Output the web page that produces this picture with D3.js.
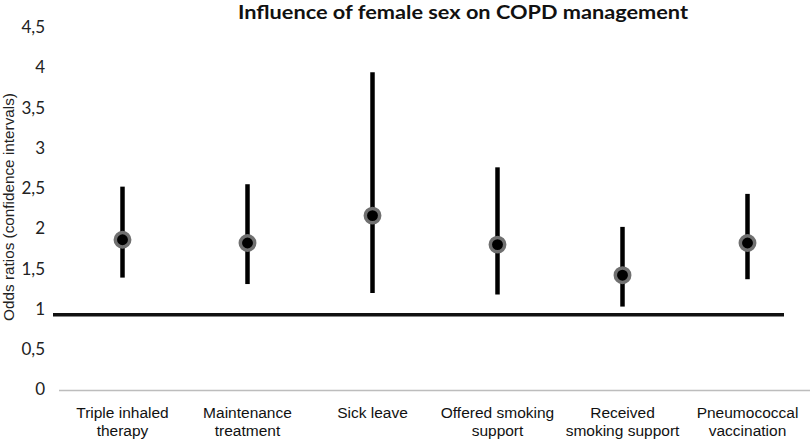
<!DOCTYPE html>
<html>
<head>
<meta charset="utf-8">
<script src="https://cdn.jsdelivr.net/npm/d3@7"></script>
<style>
  html, body { margin: 0; padding: 0; background: #fff; }
  svg { display: block; }
</style>
</head>
<body>
<svg id="chart" width="810" height="442"></svg>
<script>
// ---- data ----
const categories = [
  ["Triple inhaled", "therapy"],
  ["Maintenance", "treatment"],
  ["Sick leave"],
  ["Offered smoking", "support"],
  ["Received", "smoking support"],
  ["Pneumococcal", "vaccination"]
];
const oddsRatios = [1.86, 1.82, 2.16, 1.80, 1.42, 1.82];
const ciLower    = [1.39, 1.31, 1.20, 1.18, 1.03, 1.37];
const ciUpper    = [2.52, 2.55, 3.94, 2.76, 2.02, 2.43];
const yTicks     = [0, 0.5, 1, 1.5, 2, 2.5, 3, 3.5, 4, 4.5];
const referenceLine = 0.93;
const titleText = "Influence of female sex on COPD management";
const yTitle = "Odds ratios (confidence intervals)";

// ---- chart ----
const svg = d3.select("#chart");
const keys = categories.map(c => c.join(" "));

const x = d3.scaleBand().domain(keys).range([60, 810]);
const y = d3.scaleLinear().domain([0, 4.5]).range([389.5, 27.25]);

const fmt = d3.formatLocale({decimal: ",", thousands: ".", grouping: [3], currency: ["", ""]}).format("~g");

// title
svg.append("text")
  .attr("x", 463).attr("y", 19)
  .attr("text-anchor", "middle")
  .attr("font-family", "Lato, 'Open Sans', sans-serif")
  .attr("font-weight", "bold")
  .attr("font-size", 19)
  .attr("fill", "#111")
  .attr("textLength", 450)
  .attr("lengthAdjust", "spacingAndGlyphs")
  .text(titleText);

// y axis title
svg.append("text")
  .attr("transform", `translate(14,207) rotate(-90)`)
  .attr("text-anchor", "middle")
  .attr("font-family", "'Liberation Sans', Arial, sans-serif")
  .attr("font-size", 15.3)
  .attr("fill", "#222")
  .text(yTitle);

// y axis (labels only)
const yAxis = d3.axisLeft(y).tickValues(yTicks).tickFormat(fmt).tickSize(0).tickPadding(0);
const gy = svg.append("g").attr("transform", "translate(45,0)").call(yAxis);
gy.select(".domain").remove();
gy.selectAll("text")
  .attr("font-family", "Lato, 'Open Sans', sans-serif")
  .attr("font-size", 17)
  .attr("fill", "#222");

// x axis baseline (gray)
const xAxis = d3.axisBottom(x).tickSize(0).tickFormat("");
const gx = svg.append("g").attr("transform", `translate(0,${y(0) + 1})`).call(xAxis);
gx.select(".domain").attr("stroke", "#bdbdbd").attr("stroke-width", 1.5)
  .attr("d", `M${x.range()[0] - 1},0H${x.range()[1]}`);

// x labels (two lines)
const lab = svg.append("g").selectAll("text").data(categories).join("text")
  .attr("x", (d, i) => x(keys[i]) + x.bandwidth() / 2)
  .attr("y", 418)
  .attr("text-anchor", "middle")
  .attr("font-family", "'Liberation Sans', Arial, sans-serif")
  .attr("font-size", 15.5)
  .attr("fill", "#111");
lab.selectAll("tspan").data(d => d).join("tspan")
  .attr("x", function() { return this.parentNode.getAttribute("x"); })
  .attr("dy", (d, i) => i === 0 ? 0 : 17.5)
  .text(d => d);

// reference line
svg.append("line")
  .attr("x1", x.range()[0] - 7).attr("x2", x.range()[1] - 26)
  .attr("y1", y(referenceLine)).attr("y2", y(referenceLine))
  .attr("stroke", "#111").attr("stroke-width", 3.5);

// CI lines
svg.append("g").selectAll("line").data(keys).join("line")
  .attr("x1", d => x(d) + x.bandwidth() / 2)
  .attr("x2", d => x(d) + x.bandwidth() / 2)
  .attr("y1", (d, i) => y(ciLower[i]))
  .attr("y2", (d, i) => y(ciUpper[i]))
  .attr("stroke", "#000").attr("stroke-width", 4.5);

// points
svg.append("g").selectAll("circle").data(keys).join("circle")
  .attr("cx", d => x(d) + x.bandwidth() / 2)
  .attr("cy", (d, i) => y(oddsRatios[i]))
  .attr("r", 7.2)
  .attr("fill", "#000")
  .attr("stroke", "#707070")
  .attr("stroke-width", 3.5);
</script>
</body>
</html>
